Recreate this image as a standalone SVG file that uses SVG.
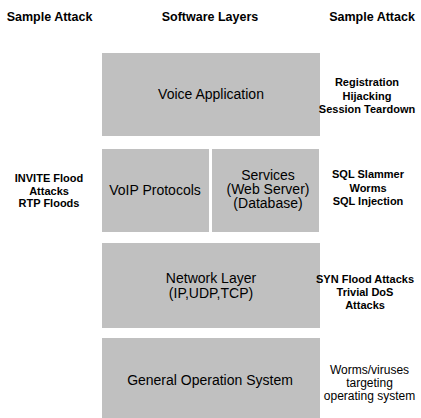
<svg xmlns="http://www.w3.org/2000/svg" width="421" height="418" viewBox="0 0 421 418">
<style>
.hdr{font-family:"Liberation Sans",Arial,sans-serif;font-size:12.5px;font-weight:bold;fill:#000;text-anchor:middle}
.box{fill:#c0c0c0}
.lbl{font-family:"Liberation Sans",Arial,sans-serif;font-size:14px;fill:#000;text-anchor:middle}
.atk{font-family:"Liberation Sans",Arial,sans-serif;font-size:11px;font-weight:bold;fill:#000;text-anchor:middle}
.atkn{font-family:"Liberation Sans",Arial,sans-serif;font-size:12px;fill:#000;text-anchor:middle}
</style>
<rect width="421" height="418" fill="#fff"/>
<g id="headers">
<text class="hdr" x="49.5" y="21">Sample Attack</text>
<text class="hdr" x="210" y="21">Software Layers</text>
<text class="hdr" x="372" y="21">Sample Attack</text>
</g>
<g id="voice-application">
<rect class="box" x="102" y="53" width="218" height="83"/>
<text class="lbl" x="211" y="99">Voice Application</text>
</g>
<g id="voip-protocols">
<rect class="box" x="102" y="149" width="107" height="83"/>
<text class="lbl" x="155" y="195">VoIP Protocols</text>
</g>
<g id="services">
<rect class="box" x="212" y="149" width="107" height="83"/>
<text class="lbl" x="268" y="180">Services</text>
<text class="lbl" x="268" y="194">(Web Server)</text>
<text class="lbl" x="268" y="208">(Database)</text>
</g>
<g id="network-layer">
<rect class="box" x="102" y="243" width="218" height="85"/>
<text class="lbl" x="211" y="283">Network Layer</text>
<text class="lbl" x="211" y="298">(IP,UDP,TCP)</text>
</g>
<g id="general-os">
<rect class="box" x="102" y="338" width="218" height="80"/>
<text class="lbl" x="210" y="385">General Operation System</text>
</g>
<g id="attacks-left">
<text class="atk" x="49" y="182">INVITE Flood</text>
<text class="atk" x="49" y="195">Attacks</text>
<text class="atk" x="49" y="207">RTP Floods</text>
</g>
<g id="attacks-right">
<text class="atk" x="367" y="86">Registration</text>
<text class="atk" x="367" y="100">Hijacking</text>
<text class="atk" x="367" y="113">Session Teardown</text>
<text class="atk" x="368" y="178">SQL Slammer</text>
<text class="atk" x="368" y="192">Worms</text>
<text class="atk" x="368" y="205">SQL Injection</text>
<text class="atk" x="365" y="283">SYN Flood Attacks</text>
<text class="atk" x="365" y="296">Trivial DoS</text>
<text class="atk" x="365" y="309">Attacks</text>
<text class="atkn" x="369.5" y="374">Worms/viruses</text>
<text class="atkn" x="369.5" y="387">targeting</text>
<text class="atkn" x="369.5" y="400">operating system</text>
</g>
</svg>
